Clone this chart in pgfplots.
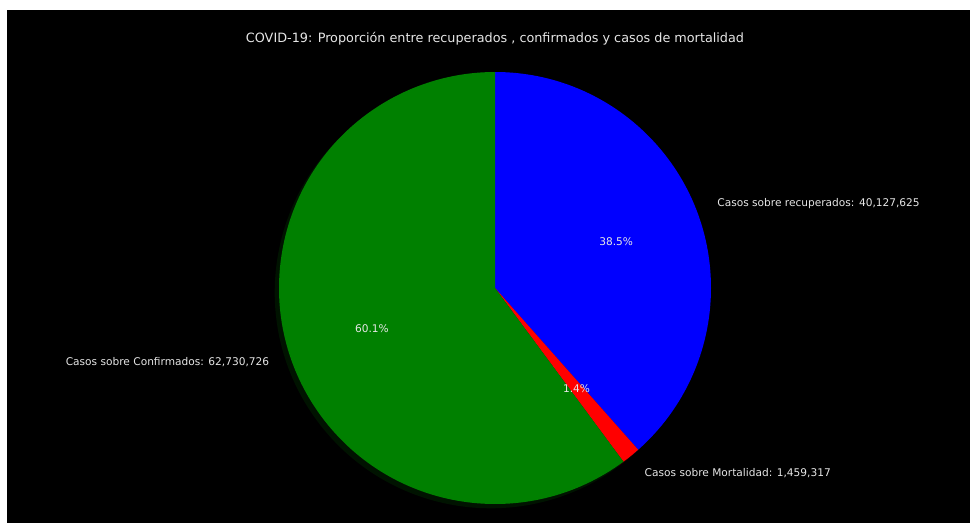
\documentclass[border=0pt]{standalone}
\usepackage{pgfplots}
\pgfplotsset{compat=1.18}
\usepackage{pgfplotstable}
\usepackage{fontspec}
\setmainfont{DejaVu Sans}
\pgfplotstableread{
slice value
recuperados 40127625
mortalidad 1459317
confirmados 62730726
}\piedata
\definecolor{shg}{RGB}{0,19,0}
\definecolor{shb}{RGB}{0,0,38}
\definecolor{shr}{RGB}{38,0,0}
\definecolor{txt}{RGB}{230,230,230}
\newcommand\pieslice[4][]{\fill[#4,#1] (axis cs:495,235) -- ++(#2:216pt) arc[start angle=#2, end angle=#3, radius=216pt] -- cycle;}
\newcommand\lblfont{\fontsize{10.6pt}{12pt}\selectfont}
\begin{document}%
\begin{tikzpicture}
\pgfplotstablegetelem{0}{value}\of\piedata \edef\vA{\pgfplotsretval}
\pgfplotstablegetelem{1}{value}\of\piedata \edef\vB{\pgfplotsretval}
\pgfplotstablegetelem{2}{value}\of\piedata \edef\vC{\pgfplotsretval}
\edef\tot{\fpeval{\vA+\vB+\vC}}
\edef\aA{90}
\edef\aB{\fpeval{90-360*\vA/\tot}}
\edef\aC{\fpeval{\aB-360*\vB/\tot}}
\edef\aD{-270}
\edef\mA{\fpeval{(\aA+\aB)/2}}
\edef\mB{\fpeval{(\aB+\aC)/2}}
\edef\mC{\fpeval{(\aC+\aD)/2}}
\edef\pA{\fpeval{round(100*\vA/\tot,1)}}
\edef\pB{\fpeval{round(100*\vB/\tot,1)}}
\edef\pC{\fpeval{round(100*\vC/\tot,1)}}
\begin{axis}[scale only axis, width=970pt, height=523pt,
  xmin=0, xmax=970, ymin=0, ymax=523, hide axis, clip=false,
  anchor=south west, at={(0,0)}]
\fill[white] (axis cs:0,0) rectangle (axis cs:970,523);
\fill[black] (axis cs:7,0) rectangle (axis cs:970,513);
% shadows
\begin{scope}[shift={(-4.3pt,-4.3pt)}]
\pieslice{\aA}{\aB}{shb}
\pieslice{\aB}{\aC}{shr}
\pieslice{\aC}{\aD}{shg}
\end{scope}
% wedges
\pieslice{\aA}{\aB}{blue}
\pieslice{\aB}{\aC}{red}
\pieslice{\aC}{\aD}{green!50!black}
% percentages
\node[txt, font=\lblfont] at (axis cs:{\fpeval{495+129.6*cosd(\mA)}},{\fpeval{235+129.6*sind(\mA)}}) {\pA\%};
\node[txt, font=\lblfont] at (axis cs:{\fpeval{495+129.6*cosd(\mB)}},{\fpeval{235+129.6*sind(\mB)}}) {\pB\%};
\node[txt, font=\lblfont] at (axis cs:{\fpeval{495+129.6*cosd(\mC)}},{\fpeval{235+129.6*sind(\mC)}}) {\pC\%};
% labels
\node[txt, font=\lblfont, anchor=west, inner sep=0pt] at (axis cs:{\fpeval{495+237.6*cosd(\mA)}},{\fpeval{235+237.6*sind(\mA)}}) {Casos sobre recuperados: 40,127,625};
\node[txt, font=\lblfont, anchor=west, inner sep=0pt] at (axis cs:{\fpeval{495+237.6*cosd(\mB)}},{\fpeval{235+237.6*sind(\mB)}}) {Casos sobre Mortalidad: 1,459,317};
\node[txt, font=\lblfont, anchor=east, inner sep=0pt] at (axis cs:{\fpeval{495+237.6*cosd(\mC)}},{\fpeval{235+237.6*sind(\mC)}}) {Casos sobre Confirmados: 62,730,726};
% title
\node[txt, font=\fontsize{12.8pt}{14pt}\selectfont] at (axis cs:495,484) {COVID-19: Proporción entre recuperados , confirmados y casos de mortalidad};
\end{axis}
\pgfresetboundingbox
\path (0,0) rectangle (970pt,523pt);
\end{tikzpicture}%
\end{document}
